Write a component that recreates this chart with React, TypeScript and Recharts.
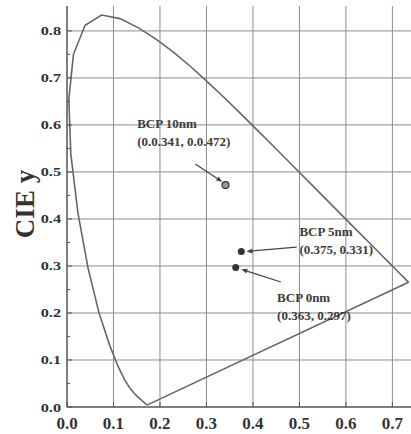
import React from "react";
import {
	ComposedChart,
	Scatter,
	XAxis,
	YAxis,
	CartesianGrid,
	ReferenceLine,
	ReferenceDot,
} from "recharts";

// CIE 1931 spectral locus (x, y)
const locusX = [
	0.1741, 0.1738, 0.1733, 0.1726, 0.1714, 0.1703, 0.1689, 0.1669, 0.1644, 0.1611,
	0.1566, 0.151, 0.144, 0.1355, 0.1241, 0.1096, 0.0913, 0.0687, 0.0454, 0.0235,
	0.0082, 0.0039, 0.0139, 0.0389, 0.0743, 0.1142, 0.1547, 0.1929, 0.2296, 0.2658,
	0.3016, 0.3373, 0.3731, 0.4087, 0.4441, 0.4788, 0.5125, 0.5448, 0.5752, 0.6029,
	0.627, 0.6482, 0.6658, 0.6801, 0.6915, 0.7006, 0.7079, 0.719, 0.726, 0.73, 0.7334,
	0.7347,
];
const locusY = [
	0.005, 0.0049, 0.0048, 0.0048, 0.0051, 0.0058, 0.0069, 0.0086, 0.0109, 0.0138,
	0.0177, 0.0227, 0.0297, 0.0399, 0.0578, 0.0868, 0.1327, 0.2007, 0.295, 0.4127,
	0.5384, 0.6548, 0.7502, 0.812, 0.8338, 0.8262, 0.8059, 0.7816, 0.7543, 0.7243,
	0.6923, 0.6589, 0.6245, 0.5896, 0.5547, 0.5202, 0.4866, 0.4544, 0.4242, 0.3965,
	0.3725, 0.3514, 0.334, 0.3197, 0.3083, 0.2993, 0.292, 0.2809, 0.274, 0.27, 0.2666,
	0.2653,
];

const samples = ["BCP 0nm", "BCP 5nm", "BCP 10nm"];
const sampleX = [0.363, 0.375, 0.341];
const sampleY = [0.297, 0.331, 0.472];
const sampleText = ["(0.363, 0.297)", "(0.375, 0.331)", "(0.0.341, 0.0.472)"];

const xMajor = [0, 0.1, 0.2, 0.3, 0.4, 0.5, 0.6, 0.7];
const xMinor = [0.05, 0.15, 0.25, 0.35, 0.45, 0.55, 0.65];
const yMajor = [0, 0.1, 0.2, 0.3, 0.4, 0.5, 0.6, 0.7, 0.8];
const yMinor = [0.05, 0.15, 0.25, 0.35, 0.45, 0.55, 0.65, 0.75];

const locus = locusX.map((x, i) => ({ x, y: locusY[i] }));
const purpleLine = [locus[locus.length - 1], locus[0]];
const points = samples.map((name, i) => ({ name, x: sampleX[i], y: sampleY[i], text: sampleText[i] }));

// label anchor and arrow, in data coords (0nm, 5nm, 10nm)
const notes = [
	{ lx: 0.452, ly: 0.223, fx: 0.46, fy: 0.266, tx: 0.375, ty: 0.293 },
	{ lx: 0.5, ly: 0.364, fx: 0.494, fy: 0.34, tx: 0.386, ty: 0.331 },
	{ lx: 0.151, ly: 0.594, fx: 0.276, fy: 0.517, tx: 0.334, ty: 0.479 },
];

const FONT = "'Liberation Serif', 'Times New Roman', serif";
const INK = "#333";
const xTicks = [...xMajor, ...xMinor].sort((a, b) => a - b);
const yTicks = [...yMajor, ...yMinor].sort((a, b) => a - b);
const isMajor = (v: number) => Math.abs(v * 10 - Math.round(v * 10)) < 1e-6;

const BottomTick = ({ x, y, payload }: any) => {
	const major = isMajor(payload.value);
	return (
		<g>
			<line x1={x} y1={y} x2={x} y2={y - (major ? 5 : 3)} stroke="#555" />
			{major && (
				<text x={x} y={y + 22} textAnchor="middle" fontFamily={FONT} fontWeight="bold" fontSize={17} fill={INK}>
					{payload.value.toFixed(1)}
				</text>
			)}
		</g>
	);
};

const TopTick = ({ x, y, payload }: any) => {
	const major = isMajor(payload.value);
	return <line x1={x} y1={y} x2={x} y2={y + (major ? 5 : 3)} stroke="#555" />;
};

const LeftTick = ({ x, y, payload }: any) => {
	const major = isMajor(payload.value);
	return (
		<g>
			<line x1={x} y1={y} x2={x + (major ? 5 : 3)} y2={y} stroke="#555" />
			{major && (
				<text
					transform={`translate(${x - 6},${y + 4.5}) scale(1.3,1)`}
					textAnchor="end"
					fontFamily={FONT}
					fontWeight="bold"
					fontSize={12.5}
					fill={INK}>
					{payload.value.toFixed(1)}
				</text>
			)}
		</g>
	);
};

const Arrow = ({ x1, y1, x2, y2 }: any) => {
	const a = Math.atan2(y2 - y1, x2 - x1);
	const len = 6;
	const w = 2.5;
	const bx = x2 - len * Math.cos(a);
	const by = y2 - len * Math.sin(a);
	const p1 = `${bx - w * Math.sin(a)},${by + w * Math.cos(a)}`;
	const p2 = `${bx + w * Math.sin(a)},${by - w * Math.cos(a)}`;
	return (
		<g>
			<line x1={x1} y1={y1} x2={bx} y2={by} stroke="#444" strokeWidth={1.2} />
			<polygon points={`${x2},${y2} ${p1} ${p2}`} fill="#444" />
		</g>
	);
};

const NoteText = (i: number) => ({ cx, cy }: any) => (
	<text x={cx} y={cy} fontFamily={FONT} fontWeight="bold" fontSize={13} fill="#3c3c3c">
		<tspan x={cx}>{points[i].name}</tspan>
		<tspan x={cx} dy={18}>
			{points[i].text}
		</tspan>
	</text>
);

const Dot = ({ cx, cy, payload }: any) =>
	payload.name === "BCP 10nm" ? (
		<circle cx={cx} cy={cy} r={3.5} fill="#9a9a9a" stroke="#333" strokeWidth={1.2} />
	) : (
		<circle cx={cx} cy={cy} r={3.5} fill="#333" />
	);

export default function App() {
	return (
		<div style={{ position: "absolute", left: 0, top: 0, background: "#fff" }}>
			<ComposedChart width={411} height={434} margin={{ top: 6, right: 0, bottom: 0, left: 0 }}>
				<CartesianGrid
					stroke="#8c8c8c"
					strokeWidth={1}
					verticalValues={xMajor.slice(1)}
					horizontalValues={yMajor.slice(1)}
				/>
				<XAxis
					type="number"
					dataKey="x"
					domain={[0, 0.74]}
					ticks={xTicks}
					tick={<BottomTick />}
					tickLine={false}
					tickSize={0}
					tickMargin={0}
					height={27}
					axisLine={{ stroke: "#555", strokeWidth: 1.5 }}
					allowDataOverflow
				/>
				<XAxis
					xAxisId="top"
					orientation="top"
					type="number"
					dataKey="x"
					domain={[0, 0.74]}
					ticks={xTicks}
					tick={<TopTick />}
					tickLine={false}
					tickSize={0}
					tickMargin={0}
					height={0}
					axisLine={{ stroke: "#555", strokeWidth: 1.5 }}
					allowDataOverflow
				/>
				<YAxis
					type="number"
					dataKey="y"
					domain={[0, 0.853]}
					ticks={yTicks}
					tick={<LeftTick />}
					tickLine={false}
					tickSize={0}
					tickMargin={0}
					width={67}
					axisLine={{ stroke: "#555", strokeWidth: 1.5 }}
					allowDataOverflow
				/>
				<Scatter
					data={locus}
					line={{ stroke: "#666", strokeWidth: 1.6 }}
					shape={() => <g />}
					isAnimationActive={false}
				/>
				<Scatter
					data={purpleLine}
					line={{ stroke: "#666", strokeWidth: 1.6 }}
					shape={() => <g />}
					isAnimationActive={false}
				/>
				<Scatter data={points} shape={<Dot />} isAnimationActive={false} />
				{notes.map((n, i) => (
					<ReferenceLine
						key={`arrow-${i}`}
						segment={[
							{ x: n.fx, y: n.fy },
							{ x: n.tx, y: n.ty },
						]}
						shape={<Arrow />}
					/>
				))}
				{notes.map((n, i) => (
					<ReferenceDot key={`note-${i}`} x={n.lx} y={n.ly} r={0} shape={NoteText(i)} />
				))}
			</ComposedChart>
			<svg width={411} height={434} style={{ position: "absolute", left: 0, top: 0, pointerEvents: "none" }}>
				<text
					transform="translate(34,204) rotate(-90)"
					textAnchor="middle"
					fontFamily={FONT}
					fontWeight="bold"
					fontSize={27}
					fill={INK}>
					CIE y
				</text>
			</svg>
		</div>
	);
}
